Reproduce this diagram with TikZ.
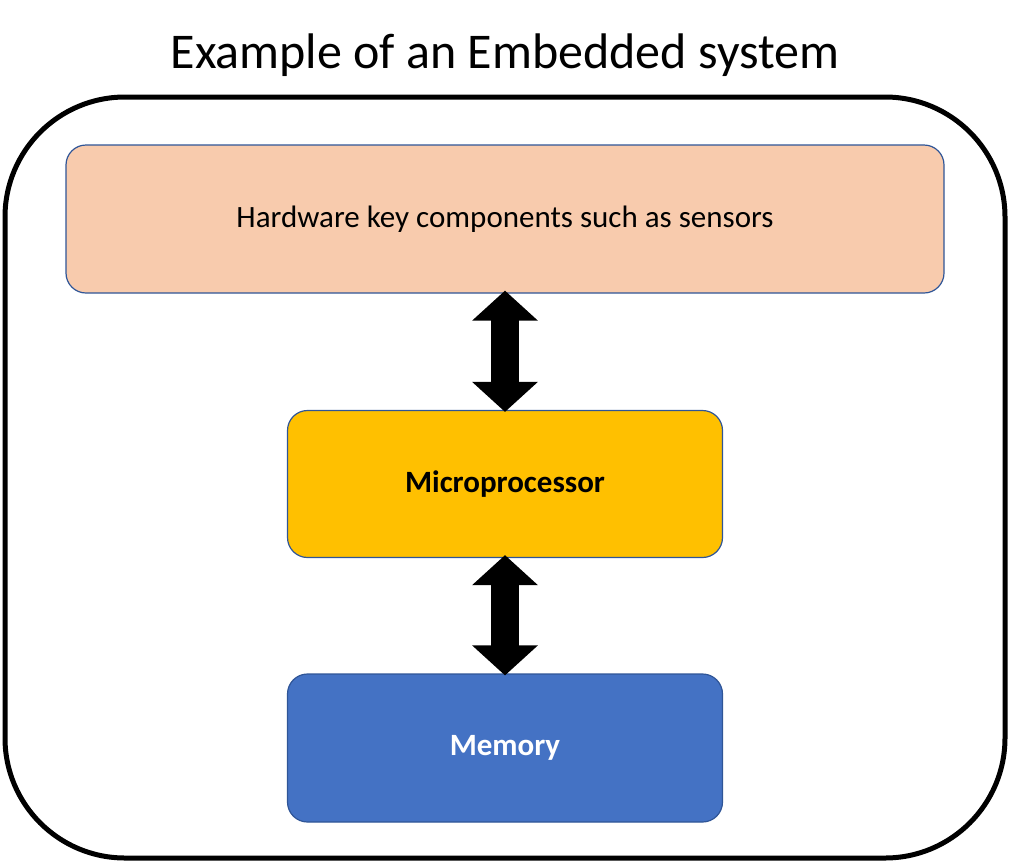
\documentclass[tikz,border=0pt]{standalone}
\usepackage{fontspec}
\setmainfont{Carlito}
\usetikzlibrary{arrows.meta}
\definecolor{peach}{HTML}{F8CBAD}
\definecolor{gold}{HTML}{FFC000}
\definecolor{blueb}{HTML}{4472C4}
\definecolor{edge}{HTML}{2F5597}
\tikzset{
  block/.style={draw=edge,line width=1.2pt,rounded corners=20pt,inner sep=0pt},
  link/.style={line width=28pt,{Triangle[width=64pt,length=30pt]}-{Triangle[width=64pt,length=30pt]},shorten <=0pt,shorten >=0pt}
}
\begin{document}
\begin{tikzpicture}[x=1pt,y=-1pt]
  \useasboundingbox (0,0) rectangle (1012,863);
  \node (title) at (505,55) {\fontsize{50}{60}\selectfont Example of an Embedded system};
  \draw[line width=5pt,rounded corners=120pt] (5,97) rectangle (1005,858);

  \node[block,fill=peach,minimum width=878pt,minimum height=148pt] (hw) at (505,219)
    {\fontsize{31}{37}\selectfont Hardware key components such as sensors};
  \node[block,fill=gold,minimum width=435pt,minimum height=147pt] (mp) at (505,484)
    {\fontsize{31}{37}\selectfont\bfseries Microprocessor};
  \node[block,fill=blueb,minimum width=435pt,minimum height=148pt,text=white] (mem) at (505,748)
    {\fontsize{31}{37}\selectfont\bfseries Memory};

  \draw[link] ([yshift=3pt]hw.south) -- ([yshift=-2pt]mp.north);
  \draw[link] ([yshift=3pt]mp.south) -- ([yshift=-2pt]mem.north);
\end{tikzpicture}
\end{document}
